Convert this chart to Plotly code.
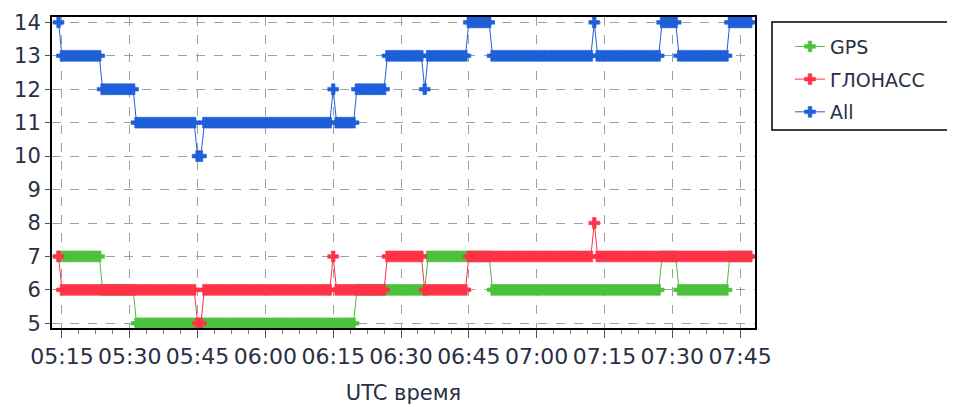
import datetime as dt
import plotly.graph_objects as go

# Sampling of the receiver log (time of first sample and step between samples)
start_time = "2024-01-01 05:14:15"
step_seconds = 45

# Run-length encoded series: (value, number of consecutive samples)
gps_values = [7, 6, 5, 6, 7, 6, 7, 6, 7]
gps_counts = [13, 10, 65, 21, 19, 50, 5, 15, 7]

glonass_values = [7, 6, 5, 6, 7, 6, 7, 6, 7, 8, 7]
glonass_counts = [1, 40, 2, 38, 1, 15, 11, 13, 37, 1, 46]

all_values = [14, 13, 12, 11, 10, 11, 12, 11, 12, 13, 12, 13, 14, 13, 14, 13, 14, 13, 14]
all_counts = [1, 12, 10, 18, 2, 38, 1, 6, 9, 11, 1, 12, 7, 30, 1, 19, 5, 15, 7]

series_names = ["GPS", "ГЛОНАСС", "All"]
series_colors = ["#4cc23c", "#ff3347", "#1f5fd8"]

y_ticks = list(range(5, 15))


def expand(values, counts):
    out = []
    for v, c in zip(values, counts):
        out.extend([v] * c)
    return out


t0 = dt.datetime.fromisoformat(start_time)
n = sum(all_counts)
times = [t0 + dt.timedelta(seconds=step_seconds * i) for i in range(n)]

fig = go.Figure()
for name, color, (vals, cnts) in zip(
    series_names,
    series_colors,
    [(gps_values, gps_counts), (glonass_values, glonass_counts), (all_values, all_counts)],
):
    fig.add_trace(
        go.Scatter(
            x=times,
            y=expand(vals, cnts),
            name=name,
            legendgroup=name,
            mode="lines+markers",
            line=dict(color=color, width=1),
            marker=dict(symbol="cross", size=9, color=color, line=dict(width=0.6, color=color)),
        )
    )

PW, PH = 703, 311  # plot area size in px
font_family = "DejaVu Sans"
fig.update_layout(
    width=947,
    height=399,
    margin=dict(l=44, r=947 - 44 - PW, t=9, b=399 - 9 - PH),
    paper_bgcolor="white",
    plot_bgcolor="white",
    font=dict(family=font_family, size=20, color="#2a2f45"),
    showlegend=True,
    legend=dict(
        x=(790 - 52) / PW,
        y=0.966,
        xanchor="left",
        yanchor="top",
        bgcolor="rgba(0,0,0,0)",
        borderwidth=0,
        font=dict(size=19, color="#2a2f45"),
        traceorder="grouped",
        tracegroupgap=5,
    ),
    xaxis=dict(
        type="date",
        automargin=False,
        range=["2024-01-01 05:12:48", "2024-01-01 07:48:18"],
        tick0="2024-01-01 05:15:00",
        dtick=15 * 60 * 1000,
        tickformat="%H:%M",
        ticks="outside",
        ticklen=8,
        tickcolor="#555",
        tickfont=dict(size=22),
        showgrid=True,
        gridcolor="#a0a0a0",
        griddash="dash",
        gridwidth=1,
        showline=True,
        linecolor="black",
        linewidth=2,
        mirror=True,
        zeroline=False,
        minor=dict(dtick=225000, ticks="outside", ticklen=4, tickcolor="#777", showgrid=False),
        title=dict(text="UTC время", font=dict(size=21), standoff=17),
    ),
    yaxis=dict(
        automargin=False,
        range=[4.86, 14.16],
        tickvals=y_ticks,
        ticks="outside",
        ticklen=5,
        tickcolor="#555",
        tickfont=dict(size=21),
        showgrid=True,
        gridcolor="#a0a0a0",
        griddash="dash",
        gridwidth=1,
        showline=True,
        linecolor="black",
        linewidth=2,
        mirror=True,
        zeroline=False,
    ),
    shapes=[
        dict(
            type="rect",
            xref="paper",
            yref="paper",
            x0=(772 - 52) / PW,
            x1=(965 - 52) / PW,
            y0=1 - (130 - 17) / PH,
            y1=1 - (22 - 17) / PH,
            line=dict(color="black", width=1.5),
        )
    ],
)

fig.write_html("out.html")
